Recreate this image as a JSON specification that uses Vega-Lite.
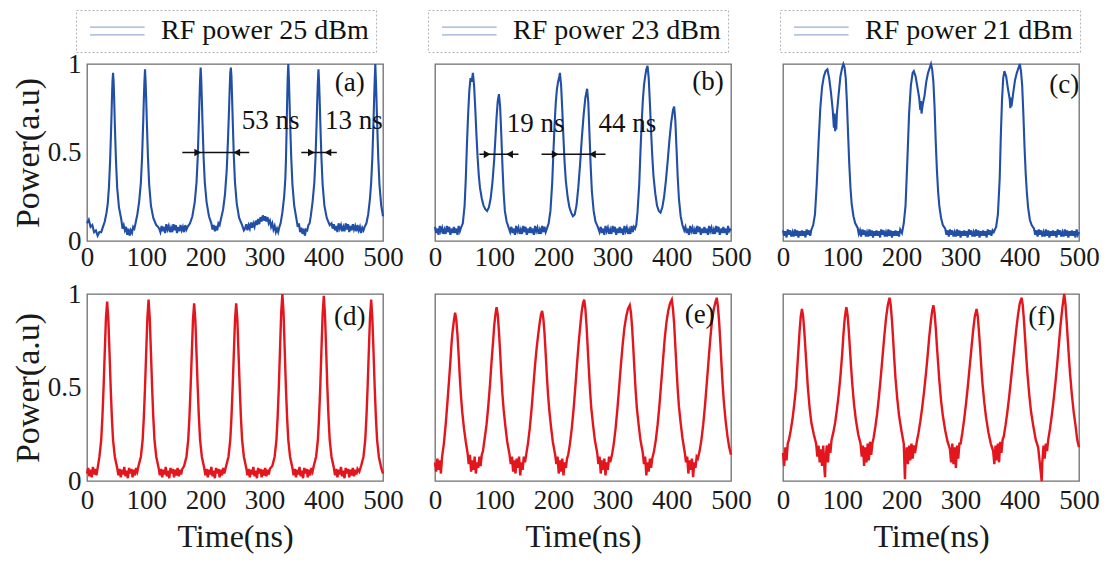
{
"$schema": "https://vega.github.io/schema/vega-lite/v6.json",
"background": "white",
"padding": {"left": 10, "top": 8, "right": 2, "bottom": 2},
"bounds": "flush",
"columns": 3,
"spacing": {"row": 53, "column": 52},
"config": {
  "font": "Liberation Serif",
  "view": {"stroke": "#6e6e6e", "strokeWidth": 1.3},
  "axis": {"grid": false, "domain": false, "ticks": false, "labelFont": "Liberation Serif", "labelFontSize": 27, "labelColor": "#1a1a1a", "titleFont": "Liberation Serif", "titleColor": "#1a1a1a", "titleFontWeight": "normal", "labelFlush": false, "labelOverlap": false},
  "legend": {"symbolType": "M-1,-0.55H6.8M-1,0.55H6.8", "symbolSize": 196, "symbolStrokeWidth": 1.1, "symbolOpacity": 0.45, "labelFont": "Liberation Serif", "labelFontSize": 28, "labelColor": "#111111", "labelOffset": 50, "labelLimit": 400, "padding": 7, "strokeColor": "#b5b5b5", "strokeDash": [2, 2], "fillColor": "#ffffff"},
  "text": {"font": "Liberation Serif", "fontSize": 27, "color": "#111111"}
},
"datasets": {
"a": [{"t":0,"v":0.1},{"t":3,"v":0.12},{"t":6,"v":0.08},{"t":9,"v":0.09},{"t":12,"v":0.05},{"t":15,"v":0.06},{"t":18,"v":0.03},{"t":21,"v":0.05},{"t":24,"v":0.05},{"t":27,"v":0.08},{"t":30,"v":0.11},{"t":33,"v":0.16},{"t":35,"v":0.21},{"t":37,"v":0.3},{"t":39,"v":0.45},{"t":41,"v":0.66},{"t":42,"v":0.79},{"t":43,"v":0.9},{"t":44,"v":0.95},{"t":45,"v":0.9},{"t":46,"v":0.79},{"t":47,"v":0.66},{"t":49,"v":0.45},{"t":51,"v":0.3},{"t":54,"v":0.19},{"t":58,"v":0.12},{"t":60,"v":0.07},{"t":62,"v":0.09},{"t":64,"v":0.06},{"t":66,"v":0.08},{"t":68,"v":0.035},{"t":70,"v":0.07},{"t":72,"v":0.03},{"t":74,"v":0.06},{"t":76,"v":0.045},{"t":78,"v":0.08},{"t":80,"v":0.07},{"t":82,"v":0.1},{"t":85,"v":0.15},{"t":88,"v":0.22},{"t":91,"v":0.33},{"t":93,"v":0.47},{"t":95,"v":0.68},{"t":96,"v":0.8},{"t":97,"v":0.9},{"t":98,"v":0.97},{"t":99,"v":0.9},{"t":100,"v":0.8},{"t":101,"v":0.68},{"t":103,"v":0.47},{"t":105,"v":0.32},{"t":108,"v":0.2},{"t":112,"v":0.13},{"t":117,"v":0.09},{"t":120,"v":0.08},{"t":122,"v":0.07},{"t":124,"v":0.05},{"t":126,"v":0.085},{"t":128,"v":0.055},{"t":130,"v":0.08},{"t":132,"v":0.045},{"t":134,"v":0.095},{"t":136,"v":0.065},{"t":138,"v":0.085},{"t":140,"v":0.05},{"t":142,"v":0.075},{"t":144,"v":0.05},{"t":146,"v":0.095},{"t":148,"v":0.06},{"t":150,"v":0.09},{"t":152,"v":0.045},{"t":154,"v":0.08},{"t":156,"v":0.055},{"t":158,"v":0.09},{"t":160,"v":0.06},{"t":162,"v":0.08},{"t":164,"v":0.05},{"t":166,"v":0.09},{"t":168,"v":0.065},{"t":170,"v":0.08},{"t":174,"v":0.1},{"t":178,"v":0.14},{"t":182,"v":0.22},{"t":185,"v":0.33},{"t":187,"v":0.47},{"t":189,"v":0.68},{"t":190,"v":0.8},{"t":191,"v":0.91},{"t":192,"v":0.98},{"t":193,"v":0.91},{"t":194,"v":0.8},{"t":195,"v":0.68},{"t":197,"v":0.47},{"t":199,"v":0.33},{"t":202,"v":0.22},{"t":206,"v":0.14},{"t":210,"v":0.1},{"t":212,"v":0.065},{"t":214,"v":0.09},{"t":216,"v":0.055},{"t":218,"v":0.085},{"t":220,"v":0.06},{"t":222,"v":0.1},{"t":224,"v":0.09},{"t":226,"v":0.12},{"t":230,"v":0.18},{"t":233,"v":0.26},{"t":236,"v":0.4},{"t":238,"v":0.56},{"t":240,"v":0.75},{"t":241,"v":0.86},{"t":242,"v":0.95},{"t":243,"v":0.98},{"t":244,"v":0.93},{"t":245,"v":0.82},{"t":246,"v":0.7},{"t":248,"v":0.48},{"t":250,"v":0.33},{"t":253,"v":0.21},{"t":257,"v":0.13},{"t":262,"v":0.09},{"t":265,"v":0.06},{"t":267,"v":0.07},{"t":269,"v":0.095},{"t":271,"v":0.06},{"t":273,"v":0.09},{"t":275,"v":0.07},{"t":277,"v":0.105},{"t":279,"v":0.075},{"t":281,"v":0.1},{"t":283,"v":0.08},{"t":285,"v":0.115},{"t":287,"v":0.09},{"t":289,"v":0.125},{"t":291,"v":0.095},{"t":293,"v":0.135},{"t":295,"v":0.11},{"t":297,"v":0.145},{"t":299,"v":0.115},{"t":301,"v":0.14},{"t":303,"v":0.11},{"t":305,"v":0.135},{"t":307,"v":0.1},{"t":309,"v":0.115},{"t":311,"v":0.08},{"t":313,"v":0.1},{"t":315,"v":0.065},{"t":317,"v":0.085},{"t":319,"v":0.05},{"t":321,"v":0.07},{"t":323,"v":0.05},{"t":325,"v":0.08},{"t":327,"v":0.1},{"t":330,"v":0.16},{"t":333,"v":0.25},{"t":335,"v":0.35},{"t":336,"v":0.45},{"t":337,"v":0.6},{"t":338,"v":0.78},{"t":339,"v":0.92},{"t":340,"v":1.0},{"t":341,"v":0.92},{"t":342,"v":0.8},{"t":343,"v":0.68},{"t":345,"v":0.47},{"t":347,"v":0.32},{"t":350,"v":0.2},{"t":354,"v":0.12},{"t":356,"v":0.08},{"t":358,"v":0.1},{"t":360,"v":0.05},{"t":362,"v":0.075},{"t":364,"v":0.04},{"t":366,"v":0.07},{"t":368,"v":0.03},{"t":370,"v":0.065},{"t":372,"v":0.06},{"t":374,"v":0.09},{"t":376,"v":0.1},{"t":378,"v":0.14},{"t":381,"v":0.22},{"t":384,"v":0.33},{"t":386,"v":0.47},{"t":388,"v":0.68},{"t":389,"v":0.8},{"t":390,"v":0.9},{"t":391,"v":0.97},{"t":392,"v":0.9},{"t":393,"v":0.8},{"t":394,"v":0.68},{"t":396,"v":0.47},{"t":398,"v":0.32},{"t":401,"v":0.2},{"t":405,"v":0.13},{"t":410,"v":0.09},{"t":413,"v":0.1},{"t":415,"v":0.07},{"t":417,"v":0.095},{"t":419,"v":0.06},{"t":421,"v":0.085},{"t":423,"v":0.05},{"t":425,"v":0.1},{"t":427,"v":0.07},{"t":429,"v":0.09},{"t":431,"v":0.055},{"t":433,"v":0.08},{"t":435,"v":0.055},{"t":437,"v":0.1},{"t":439,"v":0.065},{"t":441,"v":0.095},{"t":443,"v":0.05},{"t":445,"v":0.085},{"t":447,"v":0.06},{"t":449,"v":0.095},{"t":451,"v":0.065},{"t":453,"v":0.085},{"t":455,"v":0.055},{"t":457,"v":0.09},{"t":459,"v":0.06},{"t":461,"v":0.08},{"t":463,"v":0.045},{"t":465,"v":0.075},{"t":467,"v":0.06},{"t":469,"v":0.08},{"t":472,"v":0.1},{"t":475,"v":0.15},{"t":478,"v":0.24},{"t":480,"v":0.33},{"t":482,"v":0.47},{"t":484,"v":0.68},{"t":485,"v":0.8},{"t":486,"v":0.91},{"t":487,"v":1.0},{"t":488,"v":0.91},{"t":489,"v":0.8},{"t":490,"v":0.68},{"t":492,"v":0.47},{"t":494,"v":0.32},{"t":497,"v":0.2},{"t":500,"v":0.14}],
"b": [{"t":0,"v":0.08},{"t":2,"v":0.045},{"t":4,"v":0.07},{"t":6,"v":0.035},{"t":8,"v":0.085},{"t":10,"v":0.055},{"t":12,"v":0.075},{"t":14,"v":0.04},{"t":16,"v":0.065},{"t":18,"v":0.04},{"t":20,"v":0.085},{"t":22,"v":0.05},{"t":24,"v":0.08},{"t":26,"v":0.035},{"t":28,"v":0.07},{"t":30,"v":0.045},{"t":32,"v":0.08},{"t":34,"v":0.045},{"t":36,"v":0.07},{"t":38,"v":0.035},{"t":40,"v":0.085},{"t":42,"v":0.055},{"t":44,"v":0.075},{"t":47,"v":0.1},{"t":50,"v":0.2},{"t":52,"v":0.35},{"t":54,"v":0.55},{"t":56,"v":0.72},{"t":58,"v":0.85},{"t":60,"v":0.92},{"t":62,"v":0.9},{"t":64,"v":0.95},{"t":66,"v":0.88},{"t":68,"v":0.75},{"t":70,"v":0.6},{"t":72,"v":0.47},{"t":74,"v":0.37},{"t":76,"v":0.3},{"t":79,"v":0.24},{"t":82,"v":0.2},{"t":85,"v":0.18},{"t":88,"v":0.17},{"t":91,"v":0.19},{"t":94,"v":0.24},{"t":97,"v":0.33},{"t":100,"v":0.46},{"t":102,"v":0.58},{"t":104,"v":0.7},{"t":106,"v":0.79},{"t":108,"v":0.83},{"t":110,"v":0.76},{"t":112,"v":0.6},{"t":114,"v":0.42},{"t":116,"v":0.27},{"t":118,"v":0.17},{"t":121,"v":0.11},{"t":124,"v":0.08},{"t":127,"v":0.05},{"t":129,"v":0.08},{"t":131,"v":0.045},{"t":133,"v":0.07},{"t":135,"v":0.035},{"t":137,"v":0.085},{"t":139,"v":0.055},{"t":141,"v":0.075},{"t":143,"v":0.04},{"t":145,"v":0.065},{"t":147,"v":0.04},{"t":149,"v":0.085},{"t":151,"v":0.05},{"t":153,"v":0.08},{"t":155,"v":0.035},{"t":157,"v":0.07},{"t":159,"v":0.045},{"t":161,"v":0.08},{"t":163,"v":0.045},{"t":165,"v":0.07},{"t":167,"v":0.035},{"t":169,"v":0.085},{"t":171,"v":0.055},{"t":173,"v":0.075},{"t":175,"v":0.04},{"t":177,"v":0.065},{"t":179,"v":0.04},{"t":181,"v":0.085},{"t":183,"v":0.05},{"t":185,"v":0.08},{"t":187,"v":0.05},{"t":190,"v":0.08},{"t":192,"v":0.1},{"t":195,"v":0.17},{"t":198,"v":0.33},{"t":200,"v":0.5},{"t":202,"v":0.66},{"t":204,"v":0.78},{"t":206,"v":0.86},{"t":208,"v":0.9},{"t":210,"v":0.93},{"t":211,"v":0.95},{"t":213,"v":0.88},{"t":215,"v":0.74},{"t":217,"v":0.58},{"t":219,"v":0.44},{"t":221,"v":0.34},{"t":224,"v":0.25},{"t":227,"v":0.19},{"t":230,"v":0.16},{"t":233,"v":0.14},{"t":236,"v":0.15},{"t":239,"v":0.2},{"t":242,"v":0.3},{"t":245,"v":0.43},{"t":248,"v":0.58},{"t":251,"v":0.71},{"t":254,"v":0.81},{"t":257,"v":0.86},{"t":259,"v":0.78},{"t":261,"v":0.6},{"t":263,"v":0.42},{"t":265,"v":0.28},{"t":268,"v":0.17},{"t":271,"v":0.11},{"t":275,"v":0.08},{"t":278,"v":0.05},{"t":280,"v":0.08},{"t":282,"v":0.045},{"t":284,"v":0.07},{"t":286,"v":0.035},{"t":288,"v":0.085},{"t":290,"v":0.055},{"t":292,"v":0.075},{"t":294,"v":0.04},{"t":296,"v":0.065},{"t":298,"v":0.04},{"t":300,"v":0.085},{"t":302,"v":0.05},{"t":304,"v":0.08},{"t":306,"v":0.035},{"t":308,"v":0.07},{"t":310,"v":0.045},{"t":312,"v":0.08},{"t":314,"v":0.045},{"t":316,"v":0.07},{"t":318,"v":0.035},{"t":320,"v":0.085},{"t":322,"v":0.055},{"t":324,"v":0.075},{"t":326,"v":0.04},{"t":328,"v":0.065},{"t":330,"v":0.04},{"t":332,"v":0.085},{"t":334,"v":0.05},{"t":336,"v":0.08},{"t":338,"v":0.07},{"t":340,"v":0.09},{"t":342,"v":0.16},{"t":345,"v":0.32},{"t":347,"v":0.5},{"t":349,"v":0.66},{"t":351,"v":0.79},{"t":353,"v":0.88},{"t":355,"v":0.93},{"t":357,"v":0.97},{"t":359,"v":0.99},{"t":361,"v":0.92},{"t":363,"v":0.78},{"t":365,"v":0.62},{"t":367,"v":0.48},{"t":369,"v":0.37},{"t":372,"v":0.27},{"t":375,"v":0.2},{"t":378,"v":0.17},{"t":381,"v":0.16},{"t":384,"v":0.19},{"t":387,"v":0.25},{"t":390,"v":0.34},{"t":393,"v":0.45},{"t":396,"v":0.57},{"t":399,"v":0.67},{"t":402,"v":0.74},{"t":404,"v":0.76},{"t":406,"v":0.68},{"t":408,"v":0.52},{"t":410,"v":0.36},{"t":412,"v":0.24},{"t":415,"v":0.14},{"t":418,"v":0.09},{"t":421,"v":0.06},{"t":423,"v":0.08},{"t":425,"v":0.045},{"t":427,"v":0.07},{"t":429,"v":0.035},{"t":431,"v":0.085},{"t":433,"v":0.055},{"t":435,"v":0.075},{"t":437,"v":0.04},{"t":439,"v":0.065},{"t":441,"v":0.04},{"t":443,"v":0.085},{"t":445,"v":0.05},{"t":447,"v":0.08},{"t":449,"v":0.035},{"t":451,"v":0.07},{"t":453,"v":0.045},{"t":455,"v":0.08},{"t":457,"v":0.045},{"t":459,"v":0.07},{"t":461,"v":0.035},{"t":463,"v":0.085},{"t":465,"v":0.055},{"t":467,"v":0.075},{"t":469,"v":0.04},{"t":471,"v":0.065},{"t":473,"v":0.04},{"t":475,"v":0.085},{"t":477,"v":0.05},{"t":479,"v":0.08},{"t":481,"v":0.035},{"t":483,"v":0.07},{"t":485,"v":0.045},{"t":487,"v":0.08},{"t":489,"v":0.045},{"t":491,"v":0.07},{"t":493,"v":0.035},{"t":495,"v":0.085},{"t":497,"v":0.055},{"t":500,"v":0.07}],
"c": [{"t":0,"v":0.06},{"t":2,"v":0.03},{"t":4,"v":0.055},{"t":6,"v":0.02},{"t":8,"v":0.065},{"t":10,"v":0.035},{"t":12,"v":0.06},{"t":14,"v":0.025},{"t":16,"v":0.05},{"t":18,"v":0.025},{"t":20,"v":0.065},{"t":22,"v":0.03},{"t":24,"v":0.06},{"t":26,"v":0.02},{"t":28,"v":0.055},{"t":30,"v":0.03},{"t":32,"v":0.06},{"t":34,"v":0.03},{"t":36,"v":0.055},{"t":38,"v":0.02},{"t":40,"v":0.065},{"t":42,"v":0.035},{"t":44,"v":0.06},{"t":46,"v":0.03},{"t":48,"v":0.065},{"t":51,"v":0.09},{"t":54,"v":0.15},{"t":57,"v":0.32},{"t":60,"v":0.55},{"t":63,"v":0.75},{"t":66,"v":0.87},{"t":69,"v":0.93},{"t":72,"v":0.96},{"t":75,"v":0.97},{"t":78,"v":0.92},{"t":81,"v":0.84},{"t":84,"v":0.74},{"t":86,"v":0.64},{"t":87,"v":0.72},{"t":88,"v":0.62},{"t":89,"v":0.68},{"t":90,"v":0.63},{"t":91,"v":0.72},{"t":94,"v":0.83},{"t":97,"v":0.93},{"t":100,"v":0.98},{"t":102,"v":1.0},{"t":104,"v":0.98},{"t":106,"v":0.92},{"t":108,"v":0.78},{"t":110,"v":0.6},{"t":112,"v":0.43},{"t":114,"v":0.3},{"t":116,"v":0.21},{"t":119,"v":0.14},{"t":122,"v":0.1},{"t":126,"v":0.075},{"t":128,"v":0.04},{"t":130,"v":0.06},{"t":132,"v":0.025},{"t":134,"v":0.065},{"t":136,"v":0.035},{"t":138,"v":0.06},{"t":140,"v":0.025},{"t":142,"v":0.05},{"t":144,"v":0.025},{"t":146,"v":0.065},{"t":148,"v":0.03},{"t":150,"v":0.06},{"t":152,"v":0.02},{"t":154,"v":0.055},{"t":156,"v":0.03},{"t":158,"v":0.06},{"t":160,"v":0.03},{"t":162,"v":0.055},{"t":164,"v":0.02},{"t":166,"v":0.065},{"t":168,"v":0.035},{"t":170,"v":0.06},{"t":172,"v":0.025},{"t":174,"v":0.05},{"t":176,"v":0.025},{"t":178,"v":0.065},{"t":180,"v":0.03},{"t":182,"v":0.06},{"t":184,"v":0.02},{"t":186,"v":0.055},{"t":188,"v":0.03},{"t":190,"v":0.06},{"t":192,"v":0.03},{"t":194,"v":0.055},{"t":196,"v":0.025},{"t":198,"v":0.065},{"t":201,"v":0.045},{"t":204,"v":0.1},{"t":207,"v":0.2},{"t":210,"v":0.45},{"t":213,"v":0.72},{"t":216,"v":0.88},{"t":219,"v":0.95},{"t":221,"v":0.96},{"t":224,"v":0.93},{"t":227,"v":0.87},{"t":230,"v":0.81},{"t":232,"v":0.74},{"t":233,"v":0.79},{"t":234,"v":0.72},{"t":236,"v":0.77},{"t":239,"v":0.82},{"t":242,"v":0.9},{"t":245,"v":0.95},{"t":248,"v":0.98},{"t":250,"v":1.0},{"t":252,"v":0.97},{"t":254,"v":0.9},{"t":256,"v":0.76},{"t":258,"v":0.56},{"t":260,"v":0.4},{"t":262,"v":0.28},{"t":264,"v":0.2},{"t":267,"v":0.13},{"t":270,"v":0.09},{"t":274,"v":0.07},{"t":276,"v":0.035},{"t":278,"v":0.06},{"t":280,"v":0.025},{"t":282,"v":0.065},{"t":284,"v":0.035},{"t":286,"v":0.06},{"t":288,"v":0.025},{"t":290,"v":0.05},{"t":292,"v":0.025},{"t":294,"v":0.065},{"t":296,"v":0.03},{"t":298,"v":0.06},{"t":300,"v":0.02},{"t":302,"v":0.055},{"t":304,"v":0.03},{"t":306,"v":0.06},{"t":308,"v":0.03},{"t":310,"v":0.055},{"t":312,"v":0.02},{"t":314,"v":0.065},{"t":316,"v":0.035},{"t":318,"v":0.06},{"t":320,"v":0.025},{"t":322,"v":0.05},{"t":324,"v":0.025},{"t":326,"v":0.065},{"t":328,"v":0.03},{"t":330,"v":0.06},{"t":332,"v":0.02},{"t":334,"v":0.055},{"t":336,"v":0.03},{"t":338,"v":0.06},{"t":340,"v":0.03},{"t":342,"v":0.055},{"t":344,"v":0.02},{"t":346,"v":0.065},{"t":348,"v":0.035},{"t":350,"v":0.06},{"t":352,"v":0.03},{"t":354,"v":0.06},{"t":356,"v":0.05},{"t":360,"v":0.08},{"t":363,"v":0.15},{"t":366,"v":0.35},{"t":368,"v":0.6},{"t":370,"v":0.8},{"t":372,"v":0.92},{"t":374,"v":0.96},{"t":377,"v":0.93},{"t":380,"v":0.86},{"t":383,"v":0.8},{"t":384,"v":0.75},{"t":385,"v":0.81},{"t":386,"v":0.76},{"t":389,"v":0.84},{"t":392,"v":0.91},{"t":395,"v":0.95},{"t":398,"v":0.98},{"t":400,"v":1.0},{"t":402,"v":0.96},{"t":404,"v":0.88},{"t":406,"v":0.72},{"t":408,"v":0.53},{"t":410,"v":0.38},{"t":412,"v":0.27},{"t":414,"v":0.19},{"t":417,"v":0.12},{"t":420,"v":0.09},{"t":424,"v":0.07},{"t":426,"v":0.035},{"t":428,"v":0.06},{"t":430,"v":0.025},{"t":432,"v":0.065},{"t":434,"v":0.035},{"t":436,"v":0.06},{"t":438,"v":0.025},{"t":440,"v":0.05},{"t":442,"v":0.025},{"t":444,"v":0.065},{"t":446,"v":0.03},{"t":448,"v":0.06},{"t":450,"v":0.02},{"t":452,"v":0.055},{"t":454,"v":0.03},{"t":456,"v":0.06},{"t":458,"v":0.03},{"t":460,"v":0.055},{"t":462,"v":0.02},{"t":464,"v":0.065},{"t":466,"v":0.035},{"t":468,"v":0.06},{"t":470,"v":0.025},{"t":472,"v":0.05},{"t":474,"v":0.025},{"t":476,"v":0.065},{"t":478,"v":0.03},{"t":480,"v":0.06},{"t":482,"v":0.02},{"t":484,"v":0.055},{"t":486,"v":0.03},{"t":488,"v":0.06},{"t":490,"v":0.03},{"t":492,"v":0.055},{"t":494,"v":0.02},{"t":496,"v":0.065},{"t":498,"v":0.035},{"t":500,"v":0.05}],
"d": [{"t":0,"v":0.04},{"t":2,"v":0.07},{"t":4,"v":0.025},{"t":6,"v":0.06},{"t":8,"v":0.02},{"t":10,"v":0.075},{"t":12,"v":0.035},{"t":14,"v":0.065},{"t":16,"v":0.03},{"t":18,"v":0.07},{"t":21,"v":0.13},{"t":24,"v":0.22},{"t":26,"v":0.34},{"t":28,"v":0.5},{"t":30,"v":0.69},{"t":32,"v":0.87},{"t":34,"v":0.96},{"t":36,"v":0.87},{"t":38,"v":0.69},{"t":40,"v":0.5},{"t":42,"v":0.34},{"t":44,"v":0.22},{"t":47,"v":0.13},{"t":51,"v":0.07},{"t":53,"v":0.03},{"t":55,"v":0.065},{"t":57,"v":0.02},{"t":59,"v":0.06},{"t":61,"v":0.035},{"t":63,"v":0.075},{"t":65,"v":0.025},{"t":67,"v":0.055},{"t":69,"v":0.015},{"t":71,"v":0.07},{"t":73,"v":0.04},{"t":75,"v":0.065},{"t":77,"v":0.02},{"t":79,"v":0.06},{"t":81,"v":0.03},{"t":83,"v":0.07},{"t":85,"v":0.05},{"t":87,"v":0.08},{"t":91,"v":0.13},{"t":94,"v":0.22},{"t":96,"v":0.34},{"t":98,"v":0.5},{"t":100,"v":0.69},{"t":102,"v":0.87},{"t":104,"v":0.97},{"t":106,"v":0.87},{"t":108,"v":0.69},{"t":110,"v":0.5},{"t":112,"v":0.34},{"t":114,"v":0.22},{"t":117,"v":0.13},{"t":121,"v":0.07},{"t":123,"v":0.03},{"t":125,"v":0.065},{"t":127,"v":0.02},{"t":129,"v":0.06},{"t":131,"v":0.035},{"t":133,"v":0.075},{"t":135,"v":0.025},{"t":137,"v":0.055},{"t":139,"v":0.015},{"t":141,"v":0.07},{"t":143,"v":0.04},{"t":145,"v":0.065},{"t":147,"v":0.02},{"t":149,"v":0.06},{"t":151,"v":0.03},{"t":153,"v":0.07},{"t":155,"v":0.025},{"t":157,"v":0.06},{"t":159,"v":0.035},{"t":161,"v":0.065},{"t":164,"v":0.08},{"t":168,"v":0.13},{"t":171,"v":0.22},{"t":173,"v":0.34},{"t":175,"v":0.5},{"t":177,"v":0.68},{"t":179,"v":0.86},{"t":181,"v":0.95},{"t":183,"v":0.86},{"t":185,"v":0.68},{"t":187,"v":0.5},{"t":189,"v":0.34},{"t":191,"v":0.22},{"t":194,"v":0.13},{"t":198,"v":0.07},{"t":200,"v":0.03},{"t":202,"v":0.065},{"t":204,"v":0.02},{"t":206,"v":0.06},{"t":208,"v":0.035},{"t":210,"v":0.075},{"t":212,"v":0.025},{"t":214,"v":0.055},{"t":216,"v":0.015},{"t":218,"v":0.07},{"t":220,"v":0.04},{"t":222,"v":0.065},{"t":224,"v":0.02},{"t":226,"v":0.06},{"t":228,"v":0.03},{"t":230,"v":0.07},{"t":232,"v":0.04},{"t":235,"v":0.08},{"t":239,"v":0.13},{"t":242,"v":0.22},{"t":244,"v":0.34},{"t":246,"v":0.5},{"t":248,"v":0.68},{"t":250,"v":0.86},{"t":252,"v":0.95},{"t":254,"v":0.86},{"t":256,"v":0.68},{"t":258,"v":0.5},{"t":260,"v":0.34},{"t":262,"v":0.22},{"t":265,"v":0.13},{"t":269,"v":0.07},{"t":271,"v":0.03},{"t":273,"v":0.065},{"t":275,"v":0.02},{"t":277,"v":0.06},{"t":279,"v":0.035},{"t":281,"v":0.075},{"t":283,"v":0.025},{"t":285,"v":0.055},{"t":287,"v":0.015},{"t":289,"v":0.07},{"t":291,"v":0.04},{"t":293,"v":0.065},{"t":295,"v":0.02},{"t":297,"v":0.06},{"t":299,"v":0.03},{"t":301,"v":0.07},{"t":303,"v":0.025},{"t":305,"v":0.06},{"t":307,"v":0.035},{"t":309,"v":0.065},{"t":313,"v":0.08},{"t":317,"v":0.13},{"t":320,"v":0.22},{"t":322,"v":0.34},{"t":324,"v":0.5},{"t":326,"v":0.7},{"t":328,"v":0.9},{"t":330,"v":1.0},{"t":332,"v":0.9},{"t":334,"v":0.7},{"t":336,"v":0.5},{"t":338,"v":0.34},{"t":340,"v":0.22},{"t":343,"v":0.13},{"t":347,"v":0.07},{"t":349,"v":0.03},{"t":351,"v":0.065},{"t":353,"v":0.02},{"t":355,"v":0.06},{"t":357,"v":0.035},{"t":359,"v":0.075},{"t":361,"v":0.025},{"t":363,"v":0.055},{"t":365,"v":0.015},{"t":367,"v":0.07},{"t":369,"v":0.04},{"t":371,"v":0.065},{"t":373,"v":0.02},{"t":375,"v":0.06},{"t":377,"v":0.03},{"t":379,"v":0.07},{"t":381,"v":0.05},{"t":383,"v":0.08},{"t":387,"v":0.13},{"t":390,"v":0.22},{"t":392,"v":0.34},{"t":394,"v":0.5},{"t":396,"v":0.7},{"t":398,"v":0.89},{"t":400,"v":0.99},{"t":402,"v":0.89},{"t":404,"v":0.7},{"t":406,"v":0.5},{"t":408,"v":0.34},{"t":410,"v":0.22},{"t":413,"v":0.13},{"t":417,"v":0.07},{"t":419,"v":0.03},{"t":421,"v":0.065},{"t":423,"v":0.02},{"t":425,"v":0.06},{"t":427,"v":0.035},{"t":429,"v":0.075},{"t":431,"v":0.025},{"t":433,"v":0.055},{"t":435,"v":0.015},{"t":437,"v":0.07},{"t":439,"v":0.04},{"t":441,"v":0.065},{"t":443,"v":0.02},{"t":445,"v":0.06},{"t":447,"v":0.03},{"t":449,"v":0.07},{"t":451,"v":0.025},{"t":453,"v":0.06},{"t":455,"v":0.035},{"t":457,"v":0.065},{"t":460,"v":0.05},{"t":463,"v":0.08},{"t":467,"v":0.13},{"t":470,"v":0.22},{"t":472,"v":0.34},{"t":474,"v":0.5},{"t":476,"v":0.69},{"t":478,"v":0.87},{"t":480,"v":0.97},{"t":482,"v":0.87},{"t":484,"v":0.69},{"t":486,"v":0.5},{"t":488,"v":0.34},{"t":490,"v":0.22},{"t":493,"v":0.13},{"t":497,"v":0.07},{"t":500,"v":0.04}],
"e": [{"t":0,"v":0.1},{"t":2,"v":0.05},{"t":4,"v":0.12},{"t":6,"v":0.06},{"t":8,"v":0.11},{"t":10,"v":0.04},{"t":12,"v":0.13},{"t":15,"v":0.2},{"t":18,"v":0.3},{"t":21,"v":0.42},{"t":24,"v":0.55},{"t":26,"v":0.64},{"t":28,"v":0.74},{"t":30,"v":0.81},{"t":32,"v":0.86},{"t":34,"v":0.9},{"t":36,"v":0.86},{"t":38,"v":0.78},{"t":40,"v":0.67},{"t":42,"v":0.55},{"t":44,"v":0.45},{"t":46,"v":0.37},{"t":49,"v":0.28},{"t":52,"v":0.21},{"t":55,"v":0.15},{"t":57,"v":0.09},{"t":59,"v":0.14},{"t":61,"v":0.05},{"t":63,"v":0.11},{"t":65,"v":0.06},{"t":67,"v":0.13},{"t":69,"v":0.04},{"t":71,"v":0.1},{"t":73,"v":0.07},{"t":75,"v":0.13},{"t":77,"v":0.08},{"t":79,"v":0.14},{"t":81,"v":0.16},{"t":84,"v":0.23},{"t":87,"v":0.3},{"t":90,"v":0.4},{"t":93,"v":0.52},{"t":96,"v":0.66},{"t":98,"v":0.74},{"t":100,"v":0.83},{"t":102,"v":0.89},{"t":104,"v":0.93},{"t":106,"v":0.89},{"t":108,"v":0.8},{"t":110,"v":0.69},{"t":112,"v":0.57},{"t":114,"v":0.46},{"t":116,"v":0.38},{"t":119,"v":0.29},{"t":122,"v":0.21},{"t":126,"v":0.14},{"t":128,"v":0.09},{"t":130,"v":0.13},{"t":132,"v":0.05},{"t":134,"v":0.11},{"t":136,"v":0.04},{"t":138,"v":0.12},{"t":140,"v":0.07},{"t":142,"v":0.13},{"t":144,"v":0.03},{"t":146,"v":0.1},{"t":148,"v":0.06},{"t":150,"v":0.13},{"t":152,"v":0.1},{"t":154,"v":0.14},{"t":157,"v":0.2},{"t":160,"v":0.28},{"t":163,"v":0.38},{"t":166,"v":0.5},{"t":169,"v":0.62},{"t":172,"v":0.72},{"t":175,"v":0.8},{"t":177,"v":0.85},{"t":179,"v":0.89},{"t":181,"v":0.91},{"t":183,"v":0.87},{"t":185,"v":0.79},{"t":187,"v":0.68},{"t":189,"v":0.56},{"t":191,"v":0.46},{"t":193,"v":0.38},{"t":196,"v":0.29},{"t":199,"v":0.21},{"t":203,"v":0.14},{"t":205,"v":0.09},{"t":207,"v":0.13},{"t":209,"v":0.04},{"t":211,"v":0.11},{"t":213,"v":0.05},{"t":215,"v":0.12},{"t":217,"v":0.03},{"t":219,"v":0.1},{"t":221,"v":0.07},{"t":223,"v":0.12},{"t":225,"v":0.14},{"t":228,"v":0.2},{"t":231,"v":0.28},{"t":234,"v":0.38},{"t":237,"v":0.5},{"t":240,"v":0.63},{"t":243,"v":0.75},{"t":246,"v":0.85},{"t":248,"v":0.91},{"t":250,"v":0.95},{"t":252,"v":0.97},{"t":254,"v":0.92},{"t":256,"v":0.83},{"t":258,"v":0.71},{"t":260,"v":0.59},{"t":262,"v":0.48},{"t":264,"v":0.39},{"t":267,"v":0.3},{"t":270,"v":0.22},{"t":274,"v":0.15},{"t":276,"v":0.09},{"t":278,"v":0.13},{"t":280,"v":0.04},{"t":282,"v":0.11},{"t":284,"v":0.06},{"t":286,"v":0.12},{"t":288,"v":0.03},{"t":290,"v":0.1},{"t":292,"v":0.06},{"t":294,"v":0.13},{"t":296,"v":0.1},{"t":299,"v":0.14},{"t":302,"v":0.2},{"t":305,"v":0.28},{"t":308,"v":0.38},{"t":311,"v":0.5},{"t":314,"v":0.62},{"t":317,"v":0.73},{"t":320,"v":0.82},{"t":323,"v":0.88},{"t":326,"v":0.92},{"t":329,"v":0.94},{"t":331,"v":0.9},{"t":333,"v":0.82},{"t":335,"v":0.71},{"t":337,"v":0.59},{"t":339,"v":0.48},{"t":341,"v":0.39},{"t":344,"v":0.3},{"t":347,"v":0.22},{"t":351,"v":0.15},{"t":353,"v":0.09},{"t":355,"v":0.13},{"t":357,"v":0.03},{"t":359,"v":0.1},{"t":361,"v":0.05},{"t":363,"v":0.12},{"t":365,"v":0.07},{"t":367,"v":0.12},{"t":370,"v":0.16},{"t":373,"v":0.22},{"t":376,"v":0.3},{"t":379,"v":0.4},{"t":382,"v":0.52},{"t":385,"v":0.64},{"t":388,"v":0.76},{"t":391,"v":0.85},{"t":394,"v":0.91},{"t":397,"v":0.95},{"t":400,"v":0.97},{"t":402,"v":0.92},{"t":404,"v":0.84},{"t":406,"v":0.72},{"t":408,"v":0.6},{"t":410,"v":0.49},{"t":412,"v":0.4},{"t":415,"v":0.31},{"t":418,"v":0.23},{"t":422,"v":0.15},{"t":424,"v":0.1},{"t":426,"v":0.13},{"t":428,"v":0.04},{"t":430,"v":0.11},{"t":432,"v":0.06},{"t":434,"v":0.12},{"t":436,"v":0.02},{"t":438,"v":0.1},{"t":440,"v":0.07},{"t":442,"v":0.13},{"t":444,"v":0.12},{"t":447,"v":0.16},{"t":450,"v":0.22},{"t":453,"v":0.3},{"t":456,"v":0.4},{"t":459,"v":0.52},{"t":462,"v":0.64},{"t":465,"v":0.76},{"t":468,"v":0.86},{"t":471,"v":0.92},{"t":474,"v":0.96},{"t":476,"v":0.98},{"t":478,"v":0.93},{"t":480,"v":0.85},{"t":482,"v":0.74},{"t":484,"v":0.62},{"t":486,"v":0.51},{"t":488,"v":0.42},{"t":491,"v":0.32},{"t":494,"v":0.24},{"t":497,"v":0.18},{"t":500,"v":0.14}],
"f": [{"t":0,"v":0.15},{"t":2,"v":0.08},{"t":4,"v":0.18},{"t":6,"v":0.11},{"t":8,"v":0.2},{"t":10,"v":0.22},{"t":13,"v":0.27},{"t":16,"v":0.33},{"t":19,"v":0.41},{"t":22,"v":0.5},{"t":24,"v":0.6},{"t":26,"v":0.7},{"t":28,"v":0.8},{"t":30,"v":0.88},{"t":32,"v":0.92},{"t":34,"v":0.88},{"t":36,"v":0.8},{"t":38,"v":0.7},{"t":40,"v":0.6},{"t":42,"v":0.5},{"t":45,"v":0.39},{"t":48,"v":0.31},{"t":52,"v":0.25},{"t":56,"v":0.2},{"t":58,"v":0.13},{"t":60,"v":0.19},{"t":62,"v":0.1},{"t":64,"v":0.17},{"t":66,"v":0.08},{"t":68,"v":0.19},{"t":70,"v":0.06},{"t":71,"v":0.02},{"t":72,"v":0.12},{"t":74,"v":0.19},{"t":76,"v":0.1},{"t":78,"v":0.2},{"t":80,"v":0.15},{"t":82,"v":0.22},{"t":85,"v":0.26},{"t":88,"v":0.31},{"t":91,"v":0.38},{"t":94,"v":0.46},{"t":97,"v":0.56},{"t":100,"v":0.68},{"t":102,"v":0.78},{"t":104,"v":0.86},{"t":106,"v":0.91},{"t":107,"v":0.93},{"t":109,"v":0.89},{"t":111,"v":0.81},{"t":113,"v":0.71},{"t":115,"v":0.61},{"t":117,"v":0.52},{"t":120,"v":0.41},{"t":123,"v":0.33},{"t":127,"v":0.25},{"t":131,"v":0.2},{"t":133,"v":0.13},{"t":135,"v":0.19},{"t":137,"v":0.08},{"t":139,"v":0.18},{"t":141,"v":0.1},{"t":143,"v":0.2},{"t":145,"v":0.11},{"t":147,"v":0.21},{"t":149,"v":0.14},{"t":151,"v":0.2},{"t":153,"v":0.23},{"t":156,"v":0.29},{"t":159,"v":0.36},{"t":162,"v":0.45},{"t":165,"v":0.55},{"t":168,"v":0.66},{"t":171,"v":0.77},{"t":174,"v":0.87},{"t":177,"v":0.94},{"t":180,"v":0.98},{"t":182,"v":0.94},{"t":184,"v":0.86},{"t":186,"v":0.76},{"t":188,"v":0.65},{"t":190,"v":0.55},{"t":193,"v":0.44},{"t":196,"v":0.35},{"t":200,"v":0.27},{"t":204,"v":0.2},{"t":205,"v":0.1},{"t":206,"v":0.01},{"t":207,"v":0.12},{"t":209,"v":0.18},{"t":211,"v":0.09},{"t":213,"v":0.19},{"t":215,"v":0.11},{"t":217,"v":0.2},{"t":219,"v":0.12},{"t":221,"v":0.19},{"t":223,"v":0.15},{"t":226,"v":0.21},{"t":229,"v":0.26},{"t":232,"v":0.32},{"t":235,"v":0.39},{"t":238,"v":0.47},{"t":241,"v":0.56},{"t":244,"v":0.66},{"t":247,"v":0.77},{"t":250,"v":0.86},{"t":252,"v":0.91},{"t":254,"v":0.94},{"t":256,"v":0.9},{"t":258,"v":0.82},{"t":260,"v":0.72},{"t":262,"v":0.63},{"t":264,"v":0.54},{"t":267,"v":0.43},{"t":270,"v":0.35},{"t":274,"v":0.27},{"t":278,"v":0.21},{"t":282,"v":0.17},{"t":284,"v":0.1},{"t":286,"v":0.2},{"t":288,"v":0.09},{"t":290,"v":0.18},{"t":292,"v":0.07},{"t":294,"v":0.19},{"t":296,"v":0.12},{"t":298,"v":0.2},{"t":300,"v":0.2},{"t":303,"v":0.26},{"t":306,"v":0.33},{"t":309,"v":0.41},{"t":312,"v":0.5},{"t":315,"v":0.6},{"t":318,"v":0.7},{"t":321,"v":0.8},{"t":324,"v":0.88},{"t":327,"v":0.92},{"t":329,"v":0.88},{"t":331,"v":0.8},{"t":333,"v":0.71},{"t":335,"v":0.61},{"t":337,"v":0.52},{"t":340,"v":0.42},{"t":343,"v":0.34},{"t":347,"v":0.26},{"t":351,"v":0.2},{"t":355,"v":0.16},{"t":357,"v":0.09},{"t":359,"v":0.19},{"t":361,"v":0.11},{"t":363,"v":0.2},{"t":365,"v":0.1},{"t":367,"v":0.21},{"t":369,"v":0.15},{"t":371,"v":0.22},{"t":373,"v":0.24},{"t":376,"v":0.3},{"t":379,"v":0.37},{"t":382,"v":0.45},{"t":385,"v":0.54},{"t":388,"v":0.63},{"t":391,"v":0.72},{"t":394,"v":0.81},{"t":397,"v":0.89},{"t":400,"v":0.95},{"t":403,"v":0.98},{"t":405,"v":0.94},{"t":407,"v":0.86},{"t":409,"v":0.76},{"t":411,"v":0.66},{"t":413,"v":0.57},{"t":416,"v":0.46},{"t":419,"v":0.37},{"t":423,"v":0.29},{"t":427,"v":0.22},{"t":431,"v":0.18},{"t":433,"v":0.12},{"t":435,"v":0.06},{"t":437,"v":0.0},{"t":438,"v":0.1},{"t":440,"v":0.19},{"t":442,"v":0.12},{"t":444,"v":0.2},{"t":446,"v":0.16},{"t":448,"v":0.22},{"t":451,"v":0.28},{"t":454,"v":0.35},{"t":457,"v":0.43},{"t":460,"v":0.52},{"t":463,"v":0.62},{"t":466,"v":0.73},{"t":469,"v":0.84},{"t":472,"v":0.93},{"t":475,"v":1.0},{"t":477,"v":0.95},{"t":479,"v":0.86},{"t":481,"v":0.76},{"t":483,"v":0.66},{"t":485,"v":0.57},{"t":488,"v":0.46},{"t":491,"v":0.37},{"t":494,"v":0.3},{"t":497,"v":0.22},{"t":500,"v":0.18}]
},
"resolve": {"scale": {"color": "independent"}, "legend": {"color": "independent"}},
"concat": [
  {
   "width": 296, "height": 177,
   "encoding": {
     "x": {"field": "t", "type": "quantitative", "scale": {"domain": [0, 500], "nice": false, "zero": false}, "axis": {"values": [0, 100, 200, 300, 400, 500], "format": "d", "title": null, "labelPadding": 3}},
     "y": {"field": "v", "type": "quantitative", "scale": {"domain": [0, 1], "nice": false}, "axis": {"values": [0, 0.5, 1], "format": "~g", "title": "Power(a.u)", "titleFontSize": 34, "labelPadding": 6, "titlePadding": 2}}
   },
   "layer": [
     {"data": {"name": "a"}, "mark": {"type": "line", "strokeWidth": 2.1},
      "encoding": {"color": {"datum": "RF power 25 dBm", "scale": {"range": ["#214ea6"]}, "legend": {"title": null, "orient": "none", "legendX": -11, "legendY": -54, "labelFont": "Liberation Serif", "labelFontSize": 28}}}},
     {"data": {"values": [{"t": 161, "t2": 274, "v": 0.5}, {"t": 362, "t2": 422, "v": 0.5}]}, "mark": {"type": "rule", "color": "#111111", "strokeWidth": 1.5}, "encoding": {"x2": {"field": "t2"}}},
     {"data": {"values": [{"t": 187, "v": 0.5, "dir": "r"}, {"t": 253, "v": 0.5, "dir": "l"}, {"t": 379, "v": 0.5, "dir": "r"}, {"t": 407, "v": 0.5, "dir": "l"}]}, "mark": {"type": "point", "filled": true, "color": "#111111", "size": 60, "opacity": 1}, "encoding": {"shape": {"field": "dir", "type": "nominal", "scale": {"domain": ["r", "l"], "range": ["triangle-right", "triangle-left"]}, "legend": null}}},
     {"data": {"values": [{"t": 310, "v": 0.68, "label": "53 ns"}, {"t": 451, "v": 0.68, "label": "13 ns"}, {"t": 444, "v": 0.89, "label": "(a)"}]}, "mark": {"type": "text"}, "encoding": {"text": {"field": "label"}}}
   ]
  },
  {
   "width": 296, "height": 177,
   "encoding": {
     "x": {"field": "t", "type": "quantitative", "scale": {"domain": [0, 500], "nice": false, "zero": false}, "axis": {"values": [0, 100, 200, 300, 400, 500], "format": "d", "title": null, "labelPadding": 3}},
     "y": {"field": "v", "type": "quantitative", "scale": {"domain": [0, 1], "nice": false}, "axis": null}
   },
   "layer": [
     {"data": {"name": "b"}, "mark": {"type": "line", "strokeWidth": 2.1},
      "encoding": {"color": {"datum": "RF power 23 dBm", "scale": {"range": ["#214ea6"]}, "legend": {"title": null, "orient": "none", "legendX": -7, "legendY": -54, "labelFont": "Liberation Serif", "labelFontSize": 28}}}},
     {"data": {"values": [{"t": 75, "t2": 141, "v": 0.49}, {"t": 180, "t2": 288, "v": 0.49}]}, "mark": {"type": "rule", "color": "#111111", "strokeWidth": 1.5}, "encoding": {"x2": {"field": "t2"}}},
     {"data": {"values": [{"t": 88, "v": 0.49, "dir": "r"}, {"t": 126, "v": 0.49, "dir": "l"}, {"t": 203, "v": 0.49, "dir": "r"}, {"t": 266, "v": 0.49, "dir": "l"}]}, "mark": {"type": "point", "filled": true, "color": "#111111", "size": 60, "opacity": 1}, "encoding": {"shape": {"field": "dir", "type": "nominal", "scale": {"domain": ["r", "l"], "range": ["triangle-right", "triangle-left"]}, "legend": null}}},
     {"data": {"values": [{"t": 170, "v": 0.66, "label": "19 ns"}, {"t": 325, "v": 0.66, "label": "44 ns"}, {"t": 461, "v": 0.9, "label": "(b)"}]}, "mark": {"type": "text"}, "encoding": {"text": {"field": "label"}}}
   ]
  },
  {
   "width": 296, "height": 177,
   "encoding": {
     "x": {"field": "t", "type": "quantitative", "scale": {"domain": [0, 500], "nice": false, "zero": false}, "axis": {"values": [0, 100, 200, 300, 400, 500], "format": "d", "title": null, "labelPadding": 3}},
     "y": {"field": "v", "type": "quantitative", "scale": {"domain": [0, 1], "nice": false}, "axis": null}
   },
   "layer": [
     {"data": {"name": "c"}, "mark": {"type": "line", "strokeWidth": 2.1},
      "encoding": {"color": {"datum": "RF power 21 dBm", "scale": {"range": ["#214ea6"]}, "legend": {"title": null, "orient": "none", "legendX": -3, "legendY": -54, "labelFont": "Liberation Serif", "labelFontSize": 28}}}},
     {"data": {"values": [{"t": 475, "v": 0.88, "label": "(c)"}]}, "mark": {"type": "text"}, "encoding": {"text": {"field": "label"}}}
   ]
  },
  {
   "width": 296, "height": 187,
   "encoding": {
     "x": {"field": "t", "type": "quantitative", "scale": {"domain": [0, 500], "nice": false, "zero": false}, "axis": {"values": [0, 100, 200, 300, 400, 500], "format": "d", "title": "Time(ns)", "titleFontSize": 32, "labelPadding": 6, "titlePadding": 8}},
     "y": {"field": "v", "type": "quantitative", "scale": {"domain": [0, 1], "nice": false}, "axis": {"values": [0, 0.5, 1], "format": "~g", "title": "Power(a.u)", "titleFontSize": 34, "labelPadding": 6, "titlePadding": 2}}
   },
   "layer": [
     {"data": {"name": "d"}, "mark": {"type": "line", "strokeWidth": 2.4, "color": "#e3151d"}},
     {"data": {"values": [{"t": 444, "v": 0.876, "label": "(d)"}]}, "mark": {"type": "text"}, "encoding": {"text": {"field": "label"}}}
   ]
  },
  {
   "width": 296, "height": 187,
   "encoding": {
     "x": {"field": "t", "type": "quantitative", "scale": {"domain": [0, 500], "nice": false, "zero": false}, "axis": {"values": [0, 100, 200, 300, 400, 500], "format": "d", "title": "Time(ns)", "titleFontSize": 32, "labelPadding": 6, "titlePadding": 8}},
     "y": {"field": "v", "type": "quantitative", "scale": {"domain": [0, 1], "nice": false}, "axis": null}
   },
   "layer": [
     {"data": {"name": "e"}, "mark": {"type": "line", "strokeWidth": 2.4, "color": "#e3151d"}},
     {"data": {"values": [{"t": 447, "v": 0.89, "label": "(e)"}]}, "mark": {"type": "text"}, "encoding": {"text": {"field": "label"}}}
   ]
  },
  {
   "width": 296, "height": 187,
   "encoding": {
     "x": {"field": "t", "type": "quantitative", "scale": {"domain": [0, 500], "nice": false, "zero": false}, "axis": {"values": [0, 100, 200, 300, 400, 500], "format": "d", "title": "Time(ns)", "titleFontSize": 32, "labelPadding": 6, "titlePadding": 8}},
     "y": {"field": "v", "type": "quantitative", "scale": {"domain": [0, 1], "nice": false}, "axis": null}
   },
   "layer": [
     {"data": {"name": "f"}, "mark": {"type": "line", "strokeWidth": 2.4, "color": "#e3151d"}},
     {"data": {"values": [{"t": 437, "v": 0.876, "label": "(f)"}]}, "mark": {"type": "text"}, "encoding": {"text": {"field": "label"}}}
   ]
  }
]
}
